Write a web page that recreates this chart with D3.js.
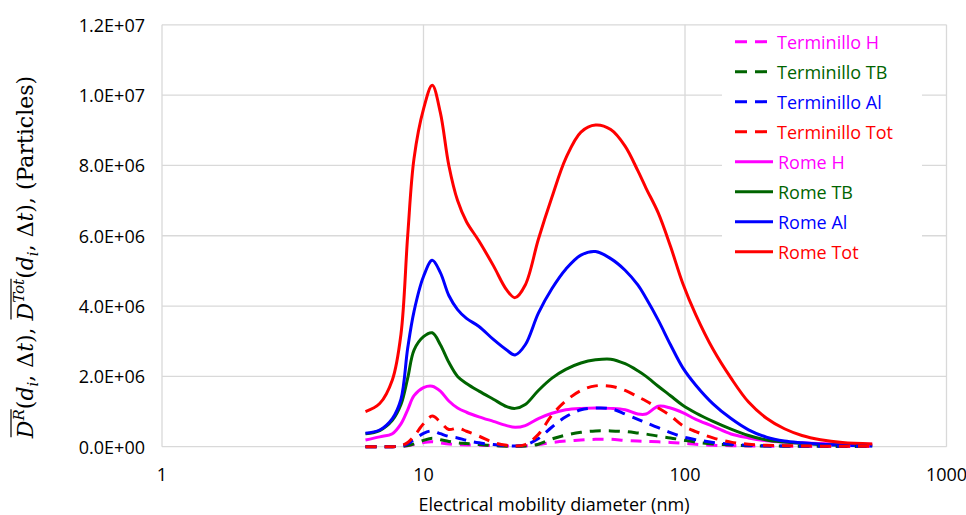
<!DOCTYPE html>
<html>
<head>
<meta charset="utf-8">
<script src="https://cdn.jsdelivr.net/npm/d3@7"></script>
<style>
  body { margin: 0; background: #fff; }
  #viz { width: 966px; height: 515px; }
  text { font-family: "Open Sans", Lato, "Liberation Sans", sans-serif; }
</style>
</head>
<body>
<div id="viz"></div>
<script>
// diameters (nm) shared by every series
const diam = [6.0, 6.8, 7.6, 8.2, 8.7, 9.2, 10.0, 10.8, 11.6, 12.5, 13.5, 14.6, 16.3, 18.5, 20.8,
  22.4, 24.5, 27.5, 31, 35, 40, 45.5, 52, 59, 66, 71, 79, 88, 98, 110, 128, 150, 175, 205, 240,
  280, 330, 400, 520];

const termH = [0, 0, 0, 1e4, 3e4, 6e4, 1.2e5, 1.4e5, 1.1e5, 8e4, 6e4, 5e4, 4e4, 3e4, 2e4,
  1.5e4, 2e4, 6e4, 1.2e5, 1.6e5, 1.9e5, 2.1e5, 2.1e5, 1.8e5, 1.6e5, 1.5e5, 1.4e5, 1.2e5, 1.0e5, 7e4, 4e4, 3e4, 2e4, 1.5e4, 1e4,
  1e4, 5e3, 5e3, 5e3];
const termTB = [0, 0, 0, 1e4, 3e4, 8e4, 1.8e5, 2.4e5, 2.0e5, 1.5e5, 1.1e5, 9e4, 6e4, 3e4, 1.5e4,
  1e4, 2e4, 7e4, 2.2e5, 3.3e5, 4.1e5, 4.5e5, 4.5e5, 4.3e5, 3.9e5, 3.6e5, 3.0e5, 2.5e5, 1.9e5, 1.3e5, 8e4, 5e4, 3e4, 2e4, 1.5e4,
  1e4, 1e4, 5e3, 5e3];
const termAl = [0, 0, 0, 2e4, 8e4, 2.0e5, 3.8e5, 4.5e5, 3.7e5, 2.9e5, 2.5e5, 1.8e5, 1.1e5, 6e4, 3e4,
  2e4, 5e4, 2.3e5, 5.6e5, 8.5e5, 1.05e6, 1.1e6, 1.08e6, 9.3e5, 7.8e5, 6.8e5, 5.4e5, 4.0e5, 2.8e5, 2.0e5, 1.2e5, 7e4, 4e4, 2.5e4, 2e4,
  1.5e4, 1e4, 1e4, 1e4];
const termTot = [0, 0, 0, 3e4, 1.2e5, 3.0e5, 6.5e5, 8.7e5, 7.0e5, 4.9e5, 5.3e5, 4.4e5, 3.0e5, 1.2e5, 4e4,
  2e4, 6e4, 3.5e5, 9.0e5, 1.3e6, 1.6e6, 1.73e6, 1.72e6, 1.6e6, 1.42e6, 1.3e6, 1.1e6, 8.8e5, 6.0e5, 4.3e5, 2.5e5, 1.3e5, 7e4, 4e4, 3e4,
  2e4, 1.5e4, 1e4, 1e4];
const romeH = [1.9e5, 2.8e5, 3.7e5, 6.5e5, 1.05e6, 1.45e6, 1.68e6, 1.72e6, 1.58e6, 1.3e6, 1.1e6, 9.8e5, 8.5e5, 7.2e5, 6.0e5,
  5.5e5, 6.0e5, 8.0e5, 9.5e5, 1.05e6, 1.09e6, 1.1e6, 1.09e6, 1.05e6, 9.3e5, 9.3e5, 1.15e6, 1.1e6, 9.7e5, 7.8e5, 5.8e5, 3.6e5, 2.5e5, 1.7e5, 1.3e5,
  1.1e5, 9e4, 8e4, 7e4];
const romeTB = [3.7e5, 4.6e5, 7.5e5, 1.2e6, 1.95e6, 2.75e6, 3.13e6, 3.24e6, 2.9e6, 2.4e6, 2.0e6, 1.8e6, 1.58e6, 1.35e6, 1.14e6,
  1.09e6, 1.2e6, 1.6e6, 1.95e6, 2.2e6, 2.38e6, 2.47e6, 2.49e6, 2.36e6, 2.16e6, 2.0e6, 1.72e6, 1.45e6, 1.18e6, 9.6e5, 7.2e5, 5.0e5, 3.2e5, 1.9e5, 1.3e5,
  9e4, 6e4, 4e4, 2.5e4];
const romeAl = [3.8e5, 4.75e5, 8.0e5, 1.35e6, 2.8e6, 3.85e6, 4.84e6, 5.3e6, 4.95e6, 4.3e6, 3.9e6, 3.65e6, 3.42e6, 3.05e6, 2.75e6,
  2.61e6, 2.9e6, 3.8e6, 4.5e6, 5.05e6, 5.45e6, 5.55e6, 5.35e6, 5.02e6, 4.6e6, 4.22e6, 3.6e6, 2.9e6, 2.25e6, 1.75e6, 1.22e6, 8.0e5, 4.8e5, 2.7e5, 1.6e5,
  1.1e5, 7e4, 4e4, 2e4];
const romeTot = [1.0e6, 1.23e6, 1.9e6, 3.2e6, 6.0e6, 8.2e6, 9.6e6, 1.028e7, 9.5e6, 8.0e6, 7.0e6, 6.4e6, 5.85e6, 5.15e6, 4.46e6,
  4.24e6, 4.6e6, 5.9e6, 7.1e6, 8.2e6, 8.95e6, 9.15e6, 9.02e6, 8.55e6, 7.85e6, 7.35e6, 6.65e6, 5.7e6, 4.65e6, 3.75e6, 2.77e6, 1.95e6, 1.27e6, 8.1e5, 5.1e5,
  3.2e5, 2.0e5, 1.2e5, 8e4];

const seriesNames = ["Terminillo H", "Terminillo TB", "Terminillo Al", "Terminillo Tot",
  "Rome H", "Rome TB", "Rome Al", "Rome Tot"];
const seriesValues = [termH, termTB, termAl, termTot, romeH, romeTB, romeAl, romeTot];

const xTicks = [1, 10, 100, 1000];
const yTicks = [0, 2e6, 4e6, 6e6, 8e6, 1e7, 1.2e7];

const colors = ["#ff00ff", "#006400", "#0000ff", "#ff0000", "#ff00ff", "#006400", "#0000ff", "#ff0000"];
const dashed = [true, true, true, true, false, false, false, false];

const W = 966, H = 515;
const svg = d3.select("#viz").append("svg").attr("width", W).attr("height", H);

const x = d3.scaleLog().domain([1, 1000]).range([162, 946.5]);
const y = d3.scaleLinear().domain([0, 1.2e7]).range([446.7, 24.8]);

function sci(v) {
  if (v === 0) return "0.0E+00";
  const e = Math.floor(Math.log10(v));
  const m = v / Math.pow(10, e);
  return m.toFixed(1) + "E+" + String(e).padStart(2, "0");
}

// gridlines
svg.append("g").selectAll("line").data(yTicks).join("line")
  .attr("x1", x(1)).attr("x2", x(1000))
  .attr("y1", d => y(d)).attr("y2", d => y(d))
  .attr("stroke", "#d9d9d9").attr("stroke-width", 1.3);
svg.append("g").selectAll("line").data(xTicks).join("line")
  .attr("x1", d => x(d)).attr("x2", d => x(d))
  .attr("y1", y(0)).attr("y2", y(1.2e7))
  .attr("stroke", "#d9d9d9").attr("stroke-width", 1.3);

// tick labels
svg.append("g").selectAll("text").data(yTicks).join("text")
  .attr("x", 145).attr("y", d => y(d))
  .attr("text-anchor", "end").attr("dominant-baseline", "central")
  .attr("font-size", 18).attr("fill", "#000")
  .text(sci);
svg.append("g").selectAll("text").data(xTicks).join("text")
  .attr("x", d => x(d)).attr("y", 481)
  .attr("text-anchor", "middle")
  .attr("font-size", 18).attr("fill", "#000")
  .text(d => d);

svg.append("text")
  .attr("x", 554).attr("y", 511)
  .attr("text-anchor", "middle").attr("font-size", 18).attr("fill", "#000")
  .text("Electrical mobility diameter (nm)");

// y axis label (math), overlines drawn by hand after layout
const ylg = svg.append("g").attr("transform", "translate(33,257) rotate(-90)");
const yl = ylg.append("text")
  .attr("text-anchor", "middle")
  .style("font-family", "'DejaVu Serif', 'Liberation Serif', serif")
  .attr("font-size", 22).attr("fill", "#000");
function dbar(sup) {
  yl.append("tspan").style("font-style", "italic").text("D");
  yl.append("tspan").attr("font-size", 15).attr("dy", -9).style("font-style", "italic").text(sup);
  yl.append("tspan").attr("dy", 9).text("(");
  yl.append("tspan").style("font-style", "italic").text("d");
  yl.append("tspan").attr("font-size", 15).attr("dy", 5).style("font-style", "italic").text("i");
  yl.append("tspan").attr("dy", -5).text(", Δ");
  yl.append("tspan").style("font-style", "italic").text("t");
  yl.append("tspan").text("), ");
}
dbar("R");
dbar("Tot");
yl.append("tspan").text("(Particles)");

const tnode = yl.node();
[[0, 1], [12, 15]].forEach(([a, b]) => {
  const ea = tnode.getExtentOfChar(a);
  const eb = tnode.getExtentOfChar(b);
  let top = Infinity;
  for (let k = a; k <= b; k++) top = Math.min(top, tnode.getExtentOfChar(k).y);
  ylg.append("line")
    .attr("x1", ea.x + 1).attr("x2", eb.x + eb.width)
    .attr("y1", top + 1).attr("y2", top + 1)
    .attr("stroke", "#000").attr("stroke-width", 1.2);
});

// curves
const line = d3.line()
  .x(d => x(d[0]))
  .y(d => y(d[1]))
  .curve(d3.curveCatmullRom.alpha(0.5));

const order = [4, 5, 6, 7, 0, 1, 2, 3];
svg.append("g").selectAll("path").data(order).join("path")
  .attr("d", i => line(diam.map((d, k) => [d, seriesValues[i][k]])))
  .attr("fill", "none")
  .attr("stroke", i => colors[i])
  .attr("stroke-width", 3)
  .attr("stroke-dasharray", i => dashed[i] ? "11,8" : null)
  .attr("stroke-linecap", "butt");

// legend
const leg = svg.append("g");
leg.append("rect").attr("x", 722).attr("y", 27).attr("width", 200).attr("height", 240).attr("fill", "#fff");
const rows = leg.selectAll("g").data(seriesNames).join("g")
  .attr("transform", (d, i) => `translate(0,${41.7 + i * 30})`);
rows.append("line")
  .attr("x1", 735).attr("x2", (d, i) => dashed[i] ? 767 : 773)
  .attr("stroke", (d, i) => colors[i]).attr("stroke-width", 3)
  .attr("stroke-dasharray", (d, i) => dashed[i] ? "12,8" : null);
rows.append("text")
  .attr("x", (d, i) => dashed[i] ? 777 : 778).attr("y", 0)
  .attr("dominant-baseline", "central")
  .attr("font-size", 18).attr("fill", (d, i) => colors[i])
  .text(d => d);
</script>
</body>
</html>
